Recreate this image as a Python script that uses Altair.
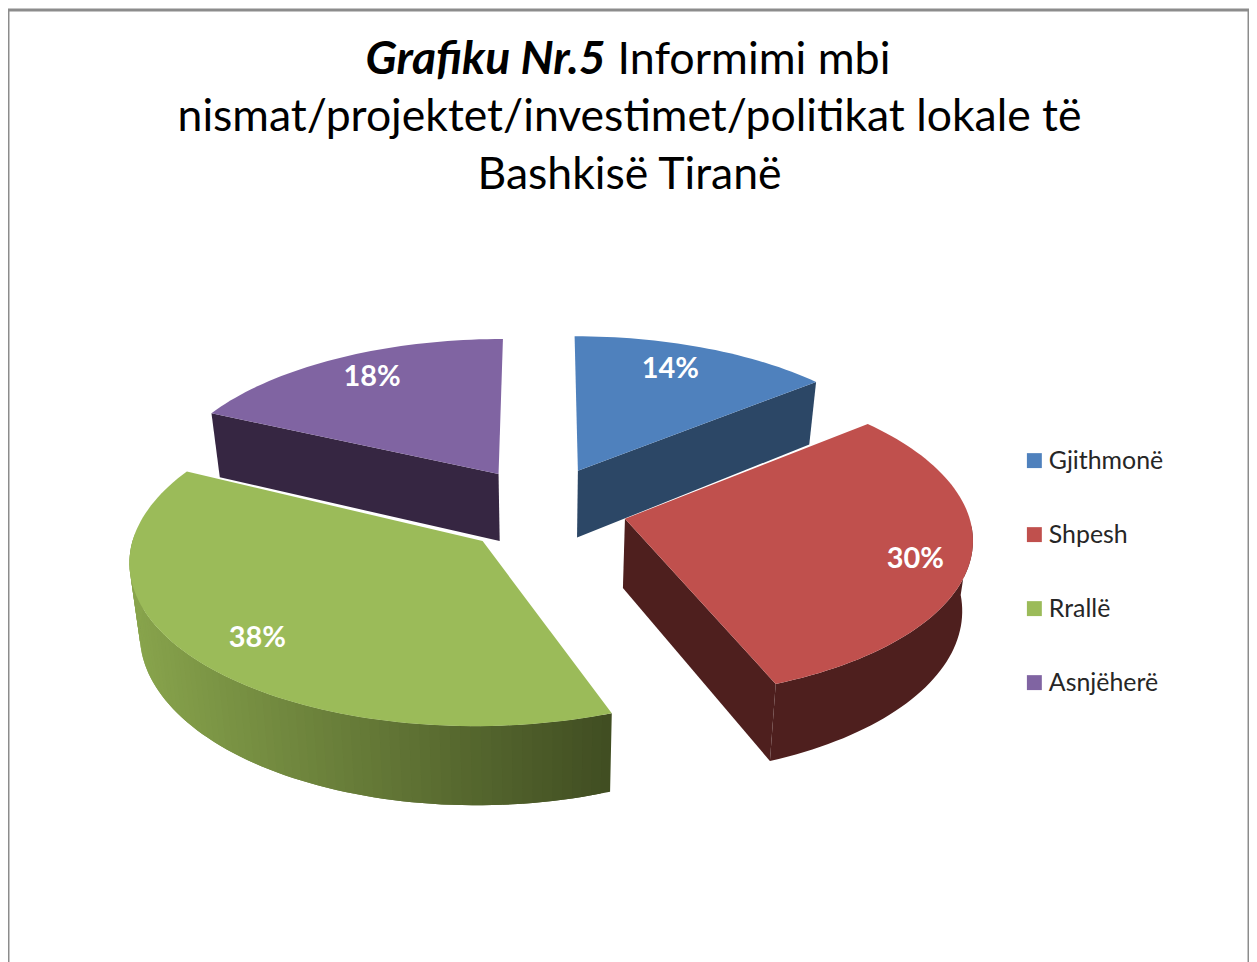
import math
import altair as alt

# Values
categories = ["Gjithmonë", "Shpesh", "Rrallë", "Asnjëherë"]
shares = [14, 30, 38, 18]
top_colors = ["#4f81bd", "#c0504d", "#9bbb59", "#8064a2"]
wall_colors = ["#2c4766", "#4e1f1e", "#88a44c", "#362642"]
green_dark = "#414e22"
title_bold = ["Grafiku Nr.5"]
title_lines = ["Informimi mbi", "nismat/projektet/investimet/politikat lokale të", "Bashkisë Tiranë"]
label_angle = [22.6, 107, 227, 329]
label_radius = [.8, .85, .81, .81]
explode_turn = [0, -3, 0, -2]
slice_turn = [0, 0, 1.2, 0]

# Pie geometry (page pixels are the canvas pixels + 8)
CX, CY = 546 - 8, 510 - 8
A, B = 344, 158
P = 0.11
EXPLODE_X, EXPLODE_Y = 0.24, 0.283
HEIGHT = 69
BASE_SHRINK = 0.025
START = 0.0


def project(x, y, z=0.0):
    s = 1 / (1 + P * y)
    return [CX + A * x * s * (1 - BASE_SHRINK * z), CY - B * y * s + z * HEIGHT * s]


def polar(angle, radius, mid):
    a, m = math.radians(angle), math.radians(mid)
    return (EXPLODE_X * math.sin(m) + radius * math.sin(a),
            EXPLODE_Y * math.cos(m) + radius * math.cos(a))


def feature(ring, cat, color):
    ring = ring + [ring[0]]
    return {"type": "Feature", "geometry": {"type": "Polygon", "coordinates": [ring]},
            "cat": cat, "color": color}


def hex_mix(c1, c2, t):
    a = [int(c1[i:i + 2], 16) for i in (1, 3, 5)]
    b = [int(c2[i:i + 2], 16) for i in (1, 3, 5)]
    return "#" + "".join(f"{round(u + (v - u) * t):02x}" for u, v in zip(a, b))


def wall(points, color, cat):
    xy = [polar(*p) for p in points]
    return feature([project(*q) for q in xy] + [project(*q, 1) for q in reversed(xy)], cat, color)


tops, walls = {}, {}
angle = START
total = sum(shares)
for i, cat in enumerate(categories):
    a0 = angle + slice_turn[i]
    a1 = angle + 360 * shares[i] / total + slice_turn[i]
    mid = angle + 180 * shares[i] / total + explode_turn[i]
    angle += 360 * shares[i] / total
    n = max(8, int((a1 - a0) / 1.5))
    arc = [a0 + (a1 - a0) * k / n for k in range(n + 1)]
    tops[cat] = feature([project(*polar(0, 0, mid))] + [project(*polar(t, 1, mid)) for t in arc], cat, top_colors[i])
    w = []
    if cat == "Gjithmonë":
        w.append(wall([(0, 0, mid), (a1, 1, mid)], wall_colors[i], cat))
    if cat == "Asnjëherë":
        w.append(wall([(0, 0, mid), (a0, 1, mid)], wall_colors[i], cat))
    if cat == "Shpesh":
        w.append(wall([(0, 0, mid), (a1, 1, mid)], wall_colors[i], cat))
        w.append(wall([(t, 1, mid) for t in arc if t > 92], wall_colors[i], cat))
    if cat == "Rrallë":
        right = project(*polar(a0, 1, mid))[0]
        left = CX - A * 1.2
        for k in range(n):
            t0, t1 = arc[k], arc[min(k + 2, n)]
            if t0 < 270:
                x = project(*polar(t0, 1, mid))[0]
                frac = min(1, max(0, (x - right) / (left - right)))
                w.append(wall([(t0, 1, mid), (arc[k + 1], 1, mid), (t1, 1, mid)],
                              hex_mix(green_dark, wall_colors[i], frac), cat))
    walls[cat] = w

proj = alt.Projection(type="identity", scale=1, translate=[0, 0])
color_scale = alt.Scale(domain=categories, range=top_colors)
legend = alt.Legend(title=None, orient="none", legendX=1018, legendY=440, symbolType="square",
                    symbolSize=225, symbolStrokeWidth=0, labelFontSize=25, labelFont="Lato",
                    labelColor="#262626", rowPadding=48.3, labelOffset=2)


def wall_layer(cats):
    values = [f for c in cats for f in walls[c]]
    return alt.Chart(alt.Data(values=values)).mark_geoshape(strokeWidth=0).encode(
        fill=alt.Fill("color:N", scale=None)
    ).project(**proj.to_dict())


def top_layer(cats):
    return alt.Chart(alt.Data(values=[tops[c] for c in cats])).mark_geoshape(strokeWidth=0).encode(
        fill=alt.Fill("cat:N", scale=color_scale, legend=legend)
    ).project(**proj.to_dict())


label_rows = []
angle = START
for i, cat in enumerate(categories):
    mid = angle + 180 * shares[i] / total + explode_turn[i]
    angle += 360 * shares[i] / total
    lon, lat = project(*polar(label_angle[i], label_radius[i], mid))
    label_rows.append({"lon": lon, "lat": lat, "text": f"{shares[i]}%"})

labels = alt.Chart(alt.Data(values=label_rows)).mark_text(
    font="Lato", fontWeight="bold", fontSize=29, color="white", baseline="middle", align="center"
).encode(longitude="lon:Q", latitude="lat:Q", text="text:N").project(**proj.to_dict())

t1 = alt.Chart(alt.Data(values=[{"t": title_bold[0]}])).mark_text(
    font="Lato", fontSize=46.5, fontWeight="bold", fontStyle="italic", align="right", baseline="alphabetic", color="black"
).encode(text="t:N", x=alt.value(600), y=alt.value(64))
t2 = alt.Chart(alt.Data(values=[{"t": title_lines[0]}])).mark_text(
    font="Lato", fontSize=45, align="left", baseline="alphabetic", color="black"
).encode(text="t:N", x=alt.value(612), y=alt.value(64))
t3 = alt.Chart(alt.Data(values=[{"t": title_lines[1]}])).mark_text(
    font="Lato", fontSize=44.7, align="center", baseline="alphabetic", color="black"
).encode(text="t:N", x=alt.value(624), y=alt.value(122))
t4 = alt.Chart(alt.Data(values=[{"t": title_lines[2]}])).mark_text(
    font="Lato", fontSize=44.7, align="center", baseline="alphabetic", color="black"
).encode(text="t:N", x=alt.value(624), y=alt.value(180))

chart = alt.layer(
    wall_layer(["Gjithmonë", "Asnjëherë"]), top_layer(["Gjithmonë", "Asnjëherë"]),
    wall_layer(["Shpesh", "Rrallë"]), top_layer(["Shpesh", "Rrallë"]),
    labels, t1, t2, t3, t4,
).properties(
    width=1246, height=962, padding=0, autosize=alt.AutoSizeParams(type="none"), background="white"
).configure_view(stroke="#8c8c8c", strokeWidth=3)

chart.save("out.html", embed_options={"renderer": "svg", "actions": False})
